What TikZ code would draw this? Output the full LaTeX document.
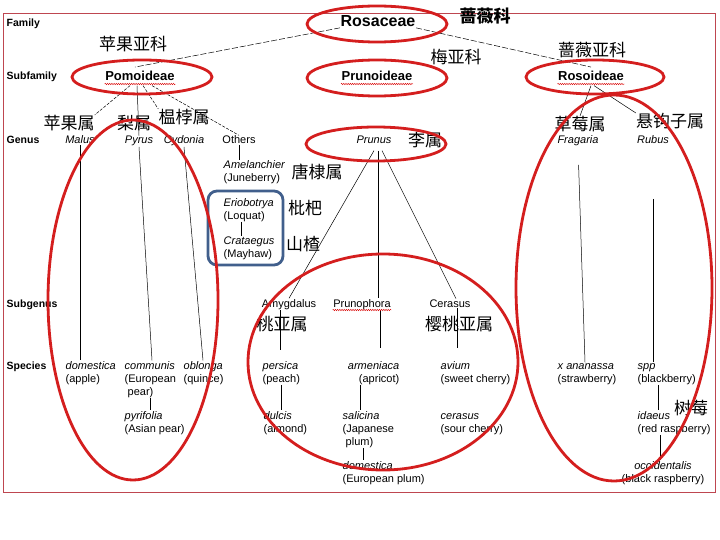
\documentclass[tikz,border=0pt]{standalone}
\usepackage{fontspec}
\setmainfont{Liberation Sans}
\newfontfamily\cjk{Noto Sans CJK SC}
\usetikzlibrary{decorations.pathmorphing}

\definecolor{ringred}{RGB}{212,30,30}
\definecolor{framered}{RGB}{190,70,80}
\definecolor{boxblue}{RGB}{65,95,140}

\begin{document}
\begin{tikzpicture}[x=1pt, y=-1pt,
    every node/.style={inner sep=0.5pt},
    rank/.style={font=\fontsize{10.5}{13}\selectfont\bfseries, anchor=base west},
    taxon/.style={font=\fontsize{11}{13}\selectfont, anchor=base},
    genus/.style={font=\fontsize{11}{13}\selectfont\itshape, anchor=base},
    subfam/.style={font=\fontsize{13}{15}\selectfont\bfseries, anchor=base, outer ysep=4pt},
    species/.style={font=\fontsize{11}{13}\selectfont, anchor=base west, align=left},
    cn/.style={font=\cjk\fontsize{17}{19}\selectfont, inner sep=0pt},
    link/.style={draw=black, line width=0.5pt},
    ring/.style={draw=ringred, line width=2.8pt},
    spell/.style={draw=red!85!black, line width=0.4pt, decorate,
      decoration={snake, amplitude=0.7pt, segment length=2.2pt}}]

  \useasboundingbox (0,0) rectangle (720,540);

  % Frame
  \draw[framered, line width=0.8pt] (3,13) rectangle (715,492);

  % Rank labels down the left side
  \foreach \rk/\y in {Family/27, Subfamily/80, Genus/144, Subgenus/307, Species/369}
    \node[rank] (rank\rk) at (6,\y) {\rk};

  % Family
  \node[anchor=base, font=\fontsize{16}{18}\selectfont\bfseries] (rosaceae) at (378,27) {Rosaceae};
  \node[inner sep=0pt, font=\cjk\bfseries\fontsize{17}{19}\selectfont] (cnrosaceae) at (485,16) {蔷薇科};

  % Subfamilies
  \node[subfam] (pomoideae) at (140,81) {Pomoideae};
  \node[subfam] (prunoideae) at (377,81) {Prunoideae};
  \node[subfam] (rosoideae) at (591,81) {Rosoideae};
  \node[cn] (cnpomoideae) at (133,44) {苹果亚科};
  \node[cn] (cnprunoideae) at (456,57) {梅亚科};
  \node[cn] (cnrosoideae) at (592,50) {蔷薇亚科};

  \draw[link, dash pattern=on 6pt off 2pt] (rosaceae.south west) -- ([xshift=-5pt]pomoideae.north);
  \draw[link, dash pattern=on 6pt off 2pt] (rosaceae.south east) -- (rosoideae.north);

  % Genera
  \node[genus] (malus) at (80,144) {Malus};
  \node[genus] (pyrus) at (139,144) {Pyrus};
  \node[genus] (cydonia) at (184,144) {Cydonia};
  \node[taxon] (others) at (239,144) {Others};
  \node[genus, outer ysep=6pt] (prunus) at (374,144) {Prunus};
  \node[genus] (fragaria) at (578,144) {Fragaria};
  \node[genus] (rubus) at (653,144) {Rubus};

  \node[cn] (cnmalus) at (69,123) {苹果属};
  \node[cn] (cnpyrus) at (134,123) {梨属};
  \node[cn] (cncydonia) at (184,117) {榅桲属};
  \node[cn] (cnprunus) at (425,140) {李属};
  \node[cn] (cnfragaria) at (580,124) {草莓属};
  \node[cn] (cnrubus) at (670,121) {悬钩子属};

  \draw[link, dash pattern=on 3pt off 1.5pt] ([xshift=-10pt]pomoideae.south) -- (cnmalus.north east);
  \draw[link] ([xshift=-3pt]pomoideae.south) -- (pyrus.north);
  \draw[link, dash pattern=on 3pt off 1.5pt] ([xshift=3pt]pomoideae.south) -- (cncydonia.north west);
  \draw[link, dash pattern=on 3pt off 1.5pt] ([xshift=12pt]pomoideae.south) -- (others.north);
  \draw[link] (rosoideae.south) -- (cnfragaria.north);
  \draw[link] ([xshift=3pt]rosoideae.south) -- (cnrubus.north west);

  % Other genera of Pomoideae (anchored on the last line)
  \node[species] (amelanchier) at (223,182) {\textit{Amelanchier}\\(Juneberry)};
  \node[species] (eriobotrya) at (223,219) {\textit{Eriobotrya}\\(Loquat)};
  \node[species] (crataegus) at (223,257) {\textit{Crataegus}\\(Mayhaw)};
  \node[cn] (cnamelanchier) at (317,172) {唐棣属};
  \node[cn] (cneriobotrya) at (305,208) {枇杷};
  \node[cn] (cncrataegus) at (303,244) {山楂};

  \draw[link] (others.south) -- (others.south |- amelanchier.north);
  \coordinate (loq) at ([xshift=18pt]eriobotrya.south west);
  \draw[link] (loq) -- (loq |- crataegus.north);
  \draw[boxblue, line width=2.8pt, rounded corners=9pt] (208,191) rectangle (283,265);

  % Subgenera of Prunus
  \node[taxon] (amygdalus) at (289,307) {Amygdalus};
  \node[taxon] (prunophora) at (362,307) {Prunophora};
  \node[taxon] (cerasus) at (450,307) {Cerasus};
  \node[cn] (cnamygdalus) at (282,324) {桃亚属};
  \node[cn] (cncerasus) at (459,324) {樱桃亚属};

  \draw[link] (prunus.south) -- (amygdalus.north);
  \draw[link] ([xshift=4pt]prunus.south) -- ([xshift=4pt]prunus.south |- prunophora.north);
  \draw[link] ([xshift=8pt]prunus.south) -- ([xshift=6pt]cerasus.north);

  % Species (anchored on the last line)
  \node[species] (apple) at (65,382) {\textit{domestica}\\(apple)};
  \node[species] (communis) at (124,395) {\textit{communis}\\(European\\\hspace{3pt}pear)};
  \node[species] (oblonga) at (183,382) {\textit{oblonga}\\(quince)};
  \node[species] (pyrifolia) at (124,432) {\textit{pyrifolia}\\(Asian pear)};
  \node[species] (persica) at (262,382) {\textit{persica}\\(peach)};
  \node[species] (dulcis) at (263,432) {\textit{dulcis}\\(almond)};
  \node[species, anchor=base east, align=right] (armeniaca) at (400,382) {\textit{armeniaca}\\(apricot)};
  \node[species] (salicina) at (342,445) {\textit{salicina}\\(Japanese\\\hspace{3pt}plum)};
  \node[species] (eplum) at (342,482) {\textit{domestica}\\(European plum)};
  \node[species] (avium) at (440,382) {\textit{avium}\\(sweet cherry)};
  \node[species] (sourcherry) at (440,432) {\textit{cerasus}\\(sour cherry)};
  \node[species] (ananassa) at (557,382) {\textit{x ananassa}\\(strawberry)};
  \node[species] (spp) at (637,382) {\textit{spp}\\(blackberry)};
  \node[species] (idaeus) at (637,432) {\textit{idaeus}\\(red raspberry)};
  \node[species, anchor=base, align=center] (occidentalis) at (663,482) {\textit{occidentalis}\\(black raspberry)};
  \node[cn] (cnidaeus) at (691,408) {树莓};

  % Genus down to species
  \draw[link] (malus.south) -- (malus.south |- apple.north);
  \draw[link] (pyrus.south) -- ([xshift=28pt]communis.north west);
  \draw[link] (cydonia.south) -- ([xshift=20pt]oblonga.north west);
  \draw[link, shorten <=18pt] (fragaria.south) -- ([xshift=28pt]ananassa.north west);
  \draw[link, shorten <=54pt] (rubus.south) -- (rubus.south |- spp.north);

  % Subgenus down to species
  \coordinate (pe) at ([xshift=18pt]persica.north west);
  \draw[link, shorten >=10pt] (pe |- amygdalus.south) -- (pe);
  \draw[link, shorten >=12pt] ([xshift=18pt]prunophora.south) -- ([xshift=18pt]prunophora.south |- armeniaca.north);
  \coordinate (av) at ([xshift=17pt]avium.north west);
  \draw[link, shorten >=12pt] (av |- cerasus.south) -- (av);

  % Links between species
  \coordinate (py) at ([xshift=26pt]pyrifolia.north west);
  \draw[link] (py |- communis.south) -- (py);
  \coordinate (du) at ([xshift=18pt]dulcis.north west);
  \draw[link] (du |- persica.south) -- (du);
  \coordinate (sa) at ([xshift=18pt]salicina.north west);
  \draw[link] (sa |- armeniaca.south) -- (sa);
  \coordinate (ep) at ([xshift=21pt]eplum.north west);
  \draw[link] (ep |- salicina.south) -- (ep);
  \coordinate (id) at ([xshift=21pt]idaeus.north west);
  \draw[link] (id |- spp.south) -- (id);
  \coordinate (oc) at ([xshift=23pt]idaeus.south west);
  \draw[link] (oc) -- (oc |- occidentalis.north);

  % Spell-check marks under some names
  \foreach \n in {pomoideae, prunoideae, rosoideae, prunophora}
    \draw[spell] ([yshift=-3pt]\n.base west) -- ([yshift=-3pt]\n.base east);

  % Red rings
  \foreach \cx/\cy/\rx/\ry in {377/24/70/18, 142/77/70/17, 377/78/70/18, 595/77/69/17,
      376/144/70/17, 133/300/85/180, 383/362/135/108, 614/288/98/193}
    \draw[ring] (\cx,\cy) ellipse [x radius=\rx, y radius=\ry];

\end{tikzpicture}
\end{document}
